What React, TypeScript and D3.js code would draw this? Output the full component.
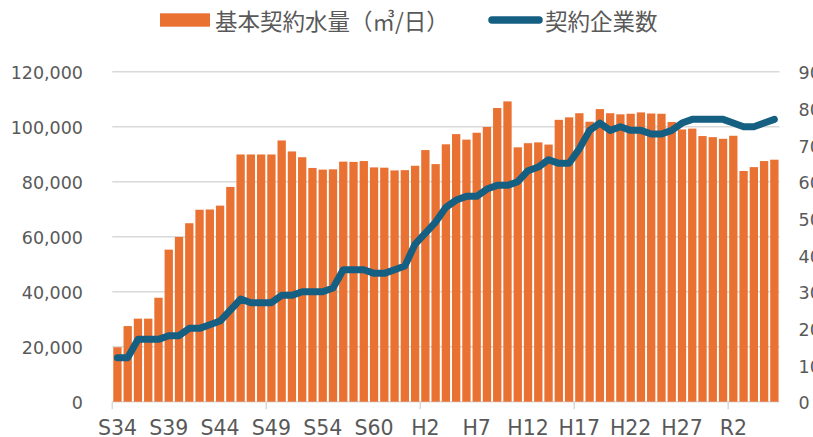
import React from "react";
import * as d3 from "d3";

const categories = [
  "S34","S35","S36","S37","S38","S39","S40","S41","S42","S43",
  "S44","S45","S46","S47","S48","S49","S50","S51","S52","S53",
  "S54","S55","S56","S57","S58","S60","S61","S62","S63","H1",
  "H2","H3","H4","H5","H6","H7","H8","H9","H10","H11",
  "H12","H13","H14","H15","H16","H17","H18","H19","H20","H21",
  "H22","H23","H24","H25","H26","H27","H28","H29","H30","R1",
  "R2","R3","R4","R5","R6"
];

const labeledCategories = ["S34","S39","S44","S49","S54","S60","H2","H7","H12","H17","H22","H27","R2"];

const waterVolume = [
  19800, 27500, 30200, 30200, 37800, 55300, 59900, 64900, 69800, 69900,
  71300, 78100, 89900, 89900, 89900, 89900, 95000, 91000, 88900, 85000,
  84400, 84500, 87300, 87200, 87500, 85200, 85100, 84100, 84200, 85800,
  91500, 86400, 93600, 97300, 95300, 97800, 99900, 106800, 109200, 92500,
  94000, 94300, 93500, 102500, 103400, 104900, 101800, 106400, 104900, 104500,
  104700, 105200, 104800, 104700, 101700, 99000, 99300, 96600, 96200, 95600,
  96700, 83900, 85300, 87500, 88000
];

const companies = [
  12, 12, 17, 17, 17, 18, 18, 20, 20, 21,
  22, 25, 28, 27, 27, 27, 29, 29, 30, 30,
  30, 31, 36, 36, 36, 35, 35, 36, 37, 43,
  46, 49, 53, 55, 56, 56, 58, 59, 59, 60,
  63, 64, 66, 65, 65, 69, 74, 76, 74, 75,
  74, 74, 73, 73, 74, 76, 77, 77, 77, 77,
  76, 75, 75, 76, 77
];

const leftTicks = [0, 20000, 40000, 60000, 80000, 100000, 120000];
const rightTicks = [0, 10, 20, 30, 40, 50, 60, 70, 80, 90];
const tickEvery = 15;

const legendBar = "基本契約水量（㎥/日）";
const legendLine = "契約企業数";

const W = 813;
const H = 437;
const plot = { left: 112.3, right: 779.5, top: 71.7, bottom: 401.7 };
const barColor = "#E97132";
const lineColor = "#156082";
const textColor = "#595959";
const gridColor = "#D9D9D9";
const numFont = "'DejaVu Sans', Verdana, sans-serif";
const cjkFont = "'Noto Sans CJK JP', 'Noto Sans', sans-serif";

export default function App() {
  const x = d3.scaleBand<string>().domain(categories).range([plot.left, plot.right]).padding(0);
  const yL = d3.scaleLinear().domain([0, 120000]).range([plot.bottom, plot.top]);
  const yR = d3.scaleLinear().domain([0, 90]).range([plot.bottom, plot.top]);
  const bw = x.bandwidth();
  const barW = bw * 0.81;
  const fmt = d3.format(",");

  const line = d3
    .line<number>()
    .x((_, i) => (x(categories[i]) as number) + bw / 2)
    .y((d) => yR(d))
    .curve(d3.curveLinear);

  const tickIdx = categories.map((_, i) => i).filter((i) => i % tickEvery === 0);

  return (
    <svg width={W} height={H} style={{ position: "absolute", left: 0, top: 0, background: "#fff" }}>
      {leftTicks.map((t) => (
        <line key={"g" + t} x1={plot.left} x2={plot.right} y1={yL(t)} y2={yL(t)} stroke={gridColor} strokeWidth={1.5} />
      ))}
      {waterVolume.map((v, i) => (
        <rect
          key={"b" + i}
          x={(x(categories[i]) as number) + (bw - barW) / 2}
          y={yL(v)}
          width={barW}
          height={yL(0) - yL(v)}
          fill={barColor}
        />
      ))}
      {tickIdx.map((i) => (
        <line key={"t" + i} x1={x(categories[i]) as number} x2={x(categories[i]) as number} y1={plot.bottom} y2={plot.bottom + 7.5} stroke={gridColor} strokeWidth={1.5} />
      ))}
      <path d={line(companies) || ""} fill="none" stroke={lineColor} strokeWidth={7} strokeLinejoin="round" strokeLinecap="round" />
      {leftTicks.map((t) => (
        <text key={"l" + t} x={83} y={yL(t) + 7.6} textAnchor="end" fontFamily={numFont} fontSize={17.5} fill={textColor}>
          {fmt(t)}
        </text>
      ))}
      {rightTicks.map((t) => (
        <text key={"r" + t} x={798.5} y={yR(t) + 7.6} textAnchor="start" fontFamily={numFont} fontSize={17.5} fill={textColor}>
          {t}
        </text>
      ))}
      {categories.map((c) =>
        labeledCategories.includes(c) ? (
          <text key={"x" + c} x={(x(c) as number) + bw / 2} y={434.5} textAnchor="middle" fontFamily={numFont} fontSize={20.5} fill={textColor}>
            {c}
          </text>
        ) : null
      )}
      <rect x={160} y={13.3} width={50} height={13.4} fill={barColor} />
      <text x={215} y={20} dominantBaseline="central" fontFamily={cjkFont} fontSize={22.5} fill={textColor}>
        {legendBar}
      </text>
      <line x1={492} x2={539} y1={20} y2={20} stroke={lineColor} strokeWidth={7.5} strokeLinecap="round" />
      <text x={545} y={20} dominantBaseline="central" fontFamily={cjkFont} fontSize={22.5} fill={textColor}>
        {legendLine}
      </text>
    </svg>
  );
}
